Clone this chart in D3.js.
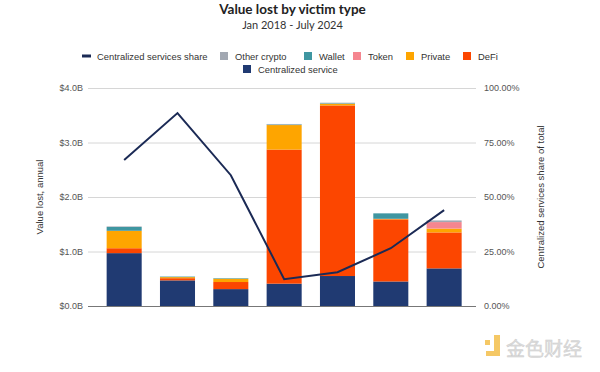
<!DOCTYPE html>
<meta charset="utf-8">
<style>
body { margin: 0; background: #fff; }
svg text { font-family: "Liberation Sans", Arial, sans-serif; }
.title { font-family: Lato, sans-serif; font-weight: bold; font-size: 13.5px; fill: #222; }
.subtitle { font-family: Lato, sans-serif; font-size: 11px; fill: #333; }
.tick text { font-size: 9px; fill: #555; }
.legend text { font-size: 9.4px; fill: #333; }
.axis-title { font-size: 9.5px; fill: #333; }
</style>
<svg class="chart"></svg>
<script src="https://d3js.org/d3.v7.min.js"></script>
<script>

var width = 600,
    height = 372;

// data, $B
var years = ["2018", "2019", "2020", "2021", "2022", "2023", "2024"];
var centralized = [0.97, 0.47, 0.31, 0.41, 0.55, 0.45, 0.69];
var defi        = [0.09, 0.04, 0.13, 2.46, 3.13, 1.14, 0.66];
var privateKeys = [0.32, 0.02, 0.06, 0.45, 0.03, 0.01, 0.07];
var token       = [0.00, 0.00, 0.00, 0.00, 0.00, 0.00, 0.12];
var wallet      = [0.07, 0.01, 0.01, 0.01, 0.01, 0.10, 0.00];
var otherCrypto = [0.01, 0.00, 0.00, 0.01, 0.01, 0.00, 0.03];
var share       = [0.67, 0.885, 0.60, 0.123, 0.155, 0.265, 0.44];
var leftTicks  = [0, 1, 2, 3, 4];
var rightTicks = [0, 0.25, 0.5, 0.75, 1];

var series = [
  { key: "Centralized service", values: centralized, color: "#203a72" },
  { key: "DeFi", values: defi, color: "#fc4600" },
  { key: "Private", values: privateKeys, color: "#fea500" },
  { key: "Token", values: token, color: "#f5868f" },
  { key: "Wallet", values: wallet, color: "#3f96a1" },
  { key: "Other crypto", values: otherCrypto, color: "#a2a8b2" }
];

var table = years.map(function(y, i) {
  var row = { year: y };
  series.forEach(function(s) { row[s.key] = s.values[i]; });
  return row;
});

var svg = d3.select(".chart")
    .attr("width", width)
    .attr("height", height);

var x = d3.scaleBand()
    .domain(years)
    .range([97.5, 470.8])
    .paddingInner(0.343)
    .paddingOuter(0.1715);

var y = d3.scaleLinear().domain([0, 4]).range([306, 88]);
var y2 = d3.scaleLinear().domain([0, 1]).range([306, 88]);

// gridlines
svg.append("g")
  .selectAll("line")
  .data(leftTicks)
  .enter().append("line")
    .attr("x1", 88).attr("x2", 476)
    .attr("y1", function(d) { return y(d) + 0.5; })
    .attr("y2", function(d) { return y(d) + 0.5; })
    .attr("stroke", function(d) { return d === 0 ? "#777" : "#d6d6d6"; })
    .attr("stroke-width", 1);

// left axis
var left = svg.append("g")
    .attr("transform", "translate(88,0)")
    .call(d3.axisLeft(y).tickValues(leftTicks).tickSize(0).tickPadding(5)
      .tickFormat(function(d) { return "$" + d3.format(".1f")(d) + "B"; }));
left.select(".domain").remove();

var right = svg.append("g")
    .attr("transform", "translate(476,0)")
    .call(d3.axisRight(y2).tickValues(rightTicks).tickSize(0).tickPadding(8)
      .tickFormat(d3.format(".2%")));
right.select(".domain").remove();

// stacked bars
var stack = d3.stack().keys(series.map(function(s) { return s.key; }));
var layers = stack(table);

svg.append("g")
  .selectAll("g")
  .data(layers)
  .enter().append("g")
    .attr("fill", function(d, i) { return series[i].color; })
  .selectAll("rect")
  .data(function(d) { return d; })
  .enter().append("rect")
    .attr("x", function(d) { return x(d.data.year); })
    .attr("y", function(d) { return y(d[1]); })
    .attr("height", function(d) { return y(d[0]) - y(d[1]); })
    .attr("width", x.bandwidth());

// share line
var line = d3.line()
    .x(function(d, i) { return x(years[i]) + x.bandwidth() / 2; })
    .y(function(d) { return y2(d); });

svg.append("path")
    .datum(share)
    .attr("fill", "none")
    .attr("stroke", "#1b2a55")
    .attr("stroke-width", 2)
    .attr("d", line);

// axis titles
svg.append("text")
    .attr("class", "axis-title")
    .attr("transform", "translate(43,197) rotate(-90)")
    .attr("text-anchor", "middle")
    .text("Value lost, annual");

svg.append("text")
    .attr("class", "axis-title")
    .attr("transform", "translate(544,197) rotate(-90)")
    .attr("text-anchor", "middle")
    .text("Centralized services share of total");

// titles
svg.append("text").attr("class", "title")
    .attr("x", 292.5).attr("y", 14).attr("text-anchor", "middle")
    .text("Value lost by victim type");
svg.append("text").attr("class", "subtitle")
    .attr("x", 292.5).attr("y", 29).attr("text-anchor", "middle")
    .text("Jan 2018 - July 2024");

// legend
var legend = svg.append("g").attr("class", "legend");
legend.append("line")
    .attr("x1", 82).attr("x2", 91).attr("y1", 56).attr("y2", 56)
    .attr("stroke", "#1b2a55").attr("stroke-width", 3);
legend.append("text").attr("x", 97).attr("y", 59.5).text("Centralized services share");

var legendItems = [
  { s: series[5], x: 220, y: 56 },
  { s: series[4], x: 304, y: 56 },
  { s: series[3], x: 353, y: 56 },
  { s: series[2], x: 406, y: 56 },
  { s: series[1], x: 463, y: 56 },
  { s: series[0], x: 243, y: 69 }
];
legendItems.forEach(function(d) {
  legend.append("rect")
      .attr("x", d.x).attr("y", d.y - 4).attr("width", 8).attr("height", 8)
      .attr("fill", d.s.color);
  legend.append("text").attr("x", d.x + 15).attr("y", d.y + 3.5).text(d.s.key);
});

// watermark
var wm = svg.append("g").attr("opacity", 0.75);
wm.append("rect").attr("x", 485).attr("y", 340).attr("width", 5).attr("height", 5).attr("fill", "#f2b632");
wm.append("path").attr("d", "M494,335 h6 v21 h-14 v-5 h8 z").attr("fill", "#f2b632");
wm.append("text")
    .attr("x", 506).attr("y", 356)
    .style("font-family", "'Noto Sans CJK SC', sans-serif")
    .style("font-size", "19px")
    .attr("fill", "#d0d0d0")
    .attr("stroke", "#bbb").attr("stroke-width", 0.4)
    .text("金色财经");

</script>
